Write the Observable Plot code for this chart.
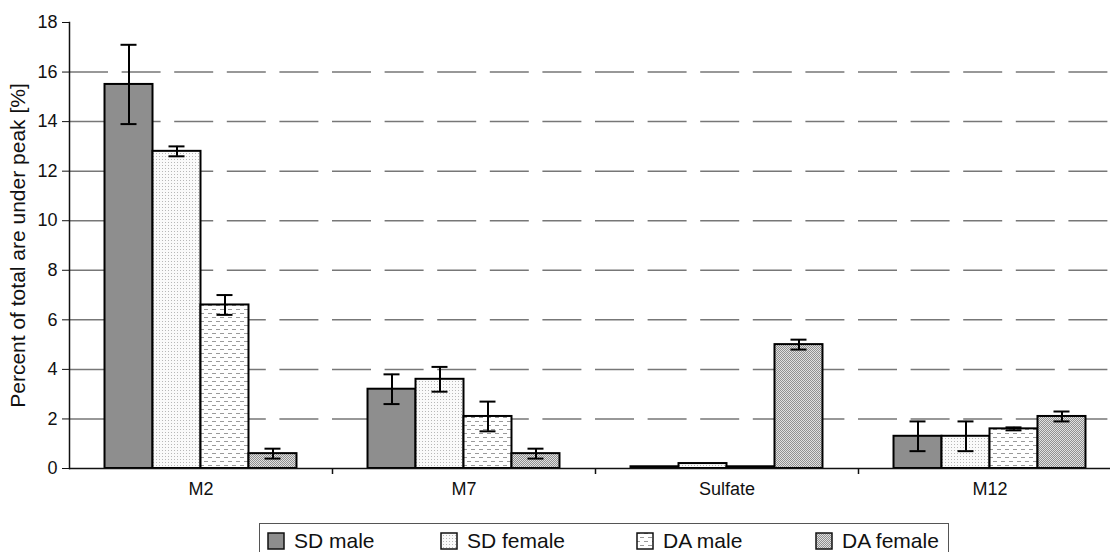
<!DOCTYPE html>
<html><head><meta charset="utf-8">
<script src="https://cdn.jsdelivr.net/npm/d3@7"></script>
<script src="https://cdn.jsdelivr.net/npm/@observablehq/plot@0.6"></script>
<style>
body{margin:0;background:#fff;font-family:"Liberation Sans",Arial,sans-serif;}
#wrap{position:relative;width:1110px;height:552px;overflow:hidden;background:#fff;}
#legend{position:absolute;left:259px;top:523px;width:690px;height:40px;border:1.5px solid #555;box-sizing:border-box;font-size:21px;color:#111;}
.item{position:absolute;top:5px;display:flex;align-items:center;gap:9px;line-height:24px;}
</style></head>
<body>
<svg width="0" height="0" style="position:absolute">
  <defs>
    <pattern id="pSDm" width="4" height="4" patternUnits="userSpaceOnUse"><rect width="4" height="4" fill="#8e8e8e"/></pattern>
    <pattern id="pSDf" width="3" height="3" patternUnits="userSpaceOnUse"><rect width="3" height="3" fill="#fafafa"/><rect x="0" y="0" width="1" height="1" fill="#b8b8b8"/></pattern>
    <pattern id="pDAm" width="8" height="8" patternUnits="userSpaceOnUse"><rect width="8" height="8" fill="#fff"/><rect x="0" y="1" width="4" height="1" fill="#9a9a9a"/><rect x="4" y="5" width="4" height="1" fill="#9a9a9a"/></pattern>
    <pattern id="pDAf" width="2" height="2" patternUnits="userSpaceOnUse"><rect width="2" height="2" fill="#e0e0e0"/><rect x="0" y="0" width="1" height="1" fill="#909090"/><rect x="1" y="1" width="1" height="1" fill="#909090"/></pattern>
  </defs>
</svg>
<div id="wrap"><div id="chart"></div><div id="legend"></div></div>
<script>
const categories = ["M2", "M7", "Sulfate", "M12"];
const series = ["SD male", "SD female", "DA male", "DA female"];
const sdMale      = [15.5, 3.2, 0.07, 1.3];
const sdMaleErr   = [1.6, 0.6, 0, 0.6];
const sdFemale    = [12.8, 3.6, 0.2, 1.3];
const sdFemaleErr = [0.2, 0.5, 0, 0.6];
const daMale      = [6.6, 2.1, 0.07, 1.6];
const daMaleErr   = [0.4, 0.6, 0, 0.06];
const daFemale    = [0.6, 0.6, 5.0, 2.1];
const daFemaleErr = [0.2, 0.2, 0.2, 0.2];
const yTicks = [0, 2, 4, 6, 8, 10, 12, 14, 16, 18];
const gridValues = [2, 4, 6, 8, 10, 12, 14, 16];
const yLabel = "Percent of total are under peak [%]";
const fills = ["url(#pSDm)", "url(#pSDf)", "url(#pDAm)", "url(#pDAf)"];

const values = [sdMale, sdFemale, daMale, daFemale];
const errs = [sdMaleErr, sdFemaleErr, daMaleErr, daFemaleErr];
const rows = [];
categories.forEach((c, i) => series.forEach((s, j) => rows.push({cat: c, series: s, value: values[j][i], err: errs[j][i]})));
const errRows = rows.filter(d => d.err > 0);

const W = 1110, H = 510, mL = 69, mR = -11, mT = 22, mB = 42;
const fxStep = (W - mL - mR) / categories.length;

const plot = Plot.plot({
  width: W, height: H,
  marginLeft: mL, marginRight: mR, marginTop: mT, marginBottom: mB,
  style: {fontFamily: "Liberation Sans, Arial, sans-serif", fontSize: "17px", color: "#111", background: "transparent"},
  fx: {domain: categories, padding: 0, round: false, label: null},
  x: {domain: series, paddingInner: 0, paddingOuter: 0.74, round: false, axis: null},
  y: {domain: [0, 18]},
  color: {domain: series, range: fills},
  marks: [
    Plot.ruleY(gridValues, {stroke: "#777", strokeWidth: 1.5, strokeDasharray: "39,13.6"}),
    Plot.axisY({ticks: yTicks, tickSize: 7, tickPadding: 5, fontSize: 18, label: null, stroke: "#111"}),
    Plot.axisY({ticks: [], tickSize: 0, fontSize: 21, label: yLabel, labelAnchor: "center", labelArrow: "none", labelOffset: 59}),
    Plot.frame({anchor: "left", facet: "super", stroke: "#111", strokeWidth: 1.5}),
    Plot.axisFx({anchor: "bottom", tickSize: 0, tickPadding: 14, fontSize: 18, label: null}),
    Plot.axisFx({anchor: "bottom", ticks: categories.slice(1), tickSize: 6, tickFormat: () => "", dx: -fxStep / 2, label: null, stroke: "#111", strokeWidth: 1.5}),
    Plot.barY(rows, {fx: "cat", x: "series", y: "value", fill: "series", stroke: "#000", strokeWidth: 2}),
    Plot.ruleX(errRows, {fx: "cat", x: "series", y1: d => d.value - d.err, y2: d => d.value + d.err, stroke: "#000", strokeWidth: 2}),
    Plot.tickY(errRows, {fx: "cat", x: "series", y: d => d.value - d.err, insetLeft: 16, insetRight: 16, stroke: "#000", strokeWidth: 2}),
    Plot.tickY(errRows, {fx: "cat", x: "series", y: d => d.value + d.err, insetLeft: 16, insetRight: 16, stroke: "#000", strokeWidth: 2}),
    Plot.ruleY([0], {stroke: "#111", strokeWidth: 1.5})
  ]
});
document.getElementById("chart").appendChild(plot);

// legend
const legend = d3.select("#legend");
const lx = [7, 180, 376, 555];
series.forEach((s, j) => {
  const it = legend.append("div").attr("class", "item").style("left", lx[j] + "px");
  const sw = it.append("svg").attr("width", 18).attr("height", 18);
  sw.append("rect").attr("x", 1).attr("y", 1).attr("width", 16).attr("height", 16).attr("fill", fills[j]).attr("stroke", "#111").attr("stroke-width", 1.5);
  it.append("span").text(s);
});
</script>
</body></html>
